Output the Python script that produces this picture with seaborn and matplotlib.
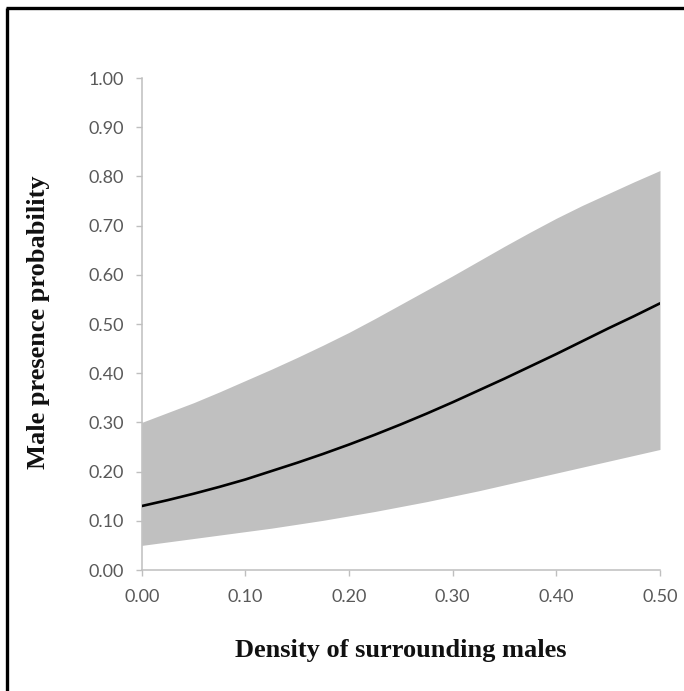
import numpy as np
import pandas as pd
import matplotlib
matplotlib.use("Agg")
import matplotlib.pyplot as plt
from matplotlib.lines import Line2D
import seaborn as sns

# Predicted probability of male presence with its confidence band
density = [0.000, 0.025, 0.050, 0.075, 0.100, 0.125, 0.150, 0.175, 0.200, 0.225,
           0.250, 0.275, 0.300, 0.325, 0.350, 0.375, 0.400, 0.425, 0.450, 0.475, 0.500]
predicted = [0.130, 0.142, 0.155, 0.169, 0.184, 0.201, 0.218, 0.236, 0.255, 0.275,
             0.296, 0.318, 0.341, 0.365, 0.389, 0.414, 0.439, 0.465, 0.491, 0.516, 0.542]
upper_ci = [0.300, 0.320, 0.340, 0.362, 0.385, 0.408, 0.432, 0.457, 0.483, 0.511,
            0.540, 0.569, 0.598, 0.628, 0.658, 0.687, 0.715, 0.741, 0.765, 0.789, 0.812]
lower_ci = [0.050, 0.057, 0.064, 0.071, 0.078, 0.085, 0.093, 0.101, 0.110, 0.119,
            0.129, 0.139, 0.150, 0.161, 0.173, 0.185, 0.197, 0.209, 0.221, 0.233, 0.245]

x_ticks = [0.0, 0.1, 0.2, 0.3, 0.4, 0.5]
y_ticks = [0.0, 0.1, 0.2, 0.3, 0.4, 0.5, 0.6, 0.7, 0.8, 0.9, 1.0]

df = pd.DataFrame({"density": density, "predicted": predicted,
                   "lower": lower_ci, "upper": upper_ci})

sns.set_theme(style="white")
plt.rcParams["font.family"] = ["Lato", "DejaVu Sans"]

fig = plt.figure(figsize=(6.84, 6.91), dpi=100)
ax = fig.add_axes([0.2072, 0.1751, 0.9649 - 0.2072, 0.8871 - 0.1751])

ax.fill_between(df["density"], df["lower"], df["upper"],
                color="#c0c0c0", linewidth=0, zorder=1)
sns.lineplot(data=df, x="density", y="predicted", ax=ax,
             color="black", linewidth=1.9, zorder=3)

ax.set_xlim(0, 0.5)
ax.set_ylim(0, 1.0)
ax.set_xticks(x_ticks)
ax.set_yticks(y_ticks)
ax.set_xticklabels([f"{t:.2f}" for t in x_ticks])
ax.set_yticklabels([f"{t:.2f}" for t in y_ticks])

for side in ("top", "right"):
    ax.spines[side].set_visible(False)
for side in ("left", "bottom"):
    ax.spines[side].set_color("#bfbfbf")
    ax.spines[side].set_linewidth(1.1)

ax.tick_params(axis="both", which="major", direction="out", length=4.5,
               width=1.0, color="#bfbfbf", labelsize=13, labelcolor="#595959")
ax.tick_params(axis="y", pad=8.5, left=True)
ax.tick_params(axis="x", pad=9, bottom=True)

label_font = dict(family=["Liberation Serif", "DejaVu Serif"], weight="bold",
                  size=19, color="#111111")
ax.set_xlabel("Density of surrounding males", **label_font)
ax.set_ylabel("Male presence probability", **label_font)
ax.xaxis.label.set_va("center")
ax.yaxis.label.set_va("center")
ax.xaxis.set_label_coords(0.5, -0.163)
ax.yaxis.set_label_coords(-0.200, 0.504)

# Frame lines along the left and top edges of the figure
fig.add_artist(Line2D([0.0105, 0.0105], [0.0, 0.988], transform=fig.transFigure,
                      color="black", linewidth=2.4, solid_capstyle="butt"))
fig.add_artist(Line2D([0.009, 1.0], [0.988, 0.988], transform=fig.transFigure,
                      color="black", linewidth=2.4, solid_capstyle="butt"))

fig.savefig("out.png", dpi=100, facecolor="white")
